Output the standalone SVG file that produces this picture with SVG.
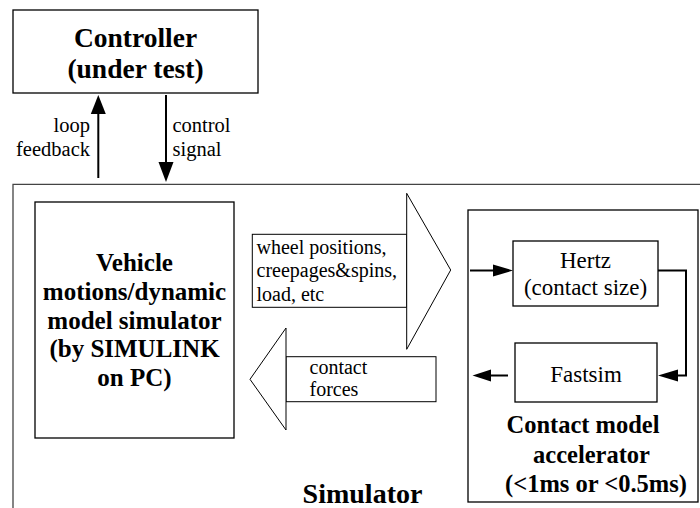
<svg xmlns="http://www.w3.org/2000/svg" width="700" height="508" viewBox="0 0 700 508">
<rect width="700" height="508" fill="#fff"/>
<g id="simulator">
<path d="M13 508 V184.3 H700" fill="none" stroke="#444" stroke-width="1.3"/>
<text font-family="Liberation Serif, serif" font-weight="bold" text-anchor="middle" x="362.5" y="503" font-size="28">Simulator</text>
</g>
<g id="controller">
<rect fill="#fff" stroke="#000" stroke-width="1.3" x="13" y="10" width="245" height="83"/>
<text font-family="Liberation Serif, serif" font-weight="bold" text-anchor="middle" x="135.5" y="46.5" font-size="27.5">Controller</text>
<text font-family="Liberation Serif, serif" font-weight="bold" text-anchor="middle" x="135.5" y="77.5" font-size="27.5">(under test)</text>
</g>
<g id="vehicle">
<rect fill="#fff" stroke="#000" stroke-width="1.3" x="35" y="202" width="199" height="236"/>
<text font-family="Liberation Serif, serif" font-weight="bold" text-anchor="middle" x="134.5" y="270.5" font-size="25">Vehicle</text>
<text font-family="Liberation Serif, serif" font-weight="bold" text-anchor="middle" x="134.5" y="300" font-size="25">motions/dynamic</text>
<text font-family="Liberation Serif, serif" font-weight="bold" text-anchor="middle" x="134.5" y="328.5" font-size="25">model simulator</text>
<text font-family="Liberation Serif, serif" font-weight="bold" text-anchor="middle" x="134.5" y="357" font-size="25">(by SIMULINK</text>
<text font-family="Liberation Serif, serif" font-weight="bold" text-anchor="middle" x="134.5" y="385.5" font-size="25">on PC)</text>
</g>
<g id="accelerator">
<rect fill="#fff" stroke="#000" stroke-width="1.3" x="468" y="210" width="230" height="292"/>
<text font-family="Liberation Serif, serif" font-weight="bold" text-anchor="middle" x="583" y="433" font-size="24.5">Contact model</text>
<text font-family="Liberation Serif, serif" font-weight="bold" text-anchor="middle" x="591.5" y="462.5" font-size="24.5">accelerator</text>
<text font-family="Liberation Serif, serif" font-weight="bold" text-anchor="middle" x="596" y="491.5" font-size="24.5">(&#60;1ms or &#60;0.5ms)</text>
</g>
<g id="hertz">
<rect fill="#fff" stroke="#000" stroke-width="1.3" x="513" y="241" width="145" height="65"/>
<text font-family="Liberation Serif, serif" x="585.5" y="268" font-size="23" text-anchor="middle">Hertz</text>
<text font-family="Liberation Serif, serif" x="585.5" y="295" font-size="23" text-anchor="middle">(contact size)</text>
</g>
<g id="fastsim">
<rect fill="#fff" stroke="#000" stroke-width="1.3" x="515" y="343" width="142" height="59"/>
<text font-family="Liberation Serif, serif" x="586" y="381.5" font-size="23" text-anchor="middle">Fastsim</text>
</g>
<g id="connectors">
<g stroke="#000" stroke-width="2" fill="none">
<line x1="98.3" y1="178" x2="98.3" y2="112"/>
<line x1="166" y1="95" x2="166" y2="164"/>
<line x1="470" y1="270.5" x2="496" y2="270.5"/>
<polyline points="658,270.5 686,270.5 686,375.5 676,375.5"/>
<line x1="508" y1="375.5" x2="488" y2="375.5"/>
</g>
<g fill="#000">
<polygon points="98.3,95 90.8,114 105.8,114"/>
<polygon points="166,182 158.5,162 173.5,162"/>
<polygon points="513,270.5 493,264.5 493,276.5"/>
<polygon points="658,375.5 678,369.5 678,381.5"/>
<polygon points="472.5,375.5 491,369.5 491,381.5"/>
</g>
<text font-family="Liberation Serif, serif" x="90" y="131.7" font-size="20.5" text-anchor="end">loop</text>
<text font-family="Liberation Serif, serif" x="90" y="156" font-size="20.5" text-anchor="end">feedback</text>
<text font-family="Liberation Serif, serif" x="172.5" y="131.7" font-size="20.5">control</text>
<text font-family="Liberation Serif, serif" x="172.5" y="155.5" font-size="20.5">signal</text>
<g id="arrow-out">
<rect fill="#fff" stroke="#000" stroke-width="1" x="252.3" y="234.3" width="154.4" height="73"/>
<polygon fill="#fff" stroke="#000" stroke-width="1" points="406.7,193.3 450.7,270 406.7,349.3"/>
<text font-family="Liberation Serif, serif" x="256.5" y="254" font-size="20">wheel positions,</text>
<text font-family="Liberation Serif, serif" x="256.5" y="277.3" font-size="20">creepages&#38;spins,</text>
<text font-family="Liberation Serif, serif" x="256.5" y="300.5" font-size="20">load, etc</text>
</g>
<g id="arrow-in">
<rect fill="#fff" stroke="#000" stroke-width="1" x="286" y="356.7" width="150" height="45"/>
<polygon fill="#fff" stroke="#000" stroke-width="1" points="286,328 250,379.3 286,430"/>
<text font-family="Liberation Serif, serif" x="309.5" y="374" font-size="20">contact</text>
<text font-family="Liberation Serif, serif" x="309.5" y="395.5" font-size="20">forces</text>
</g>
</g>
</svg>
